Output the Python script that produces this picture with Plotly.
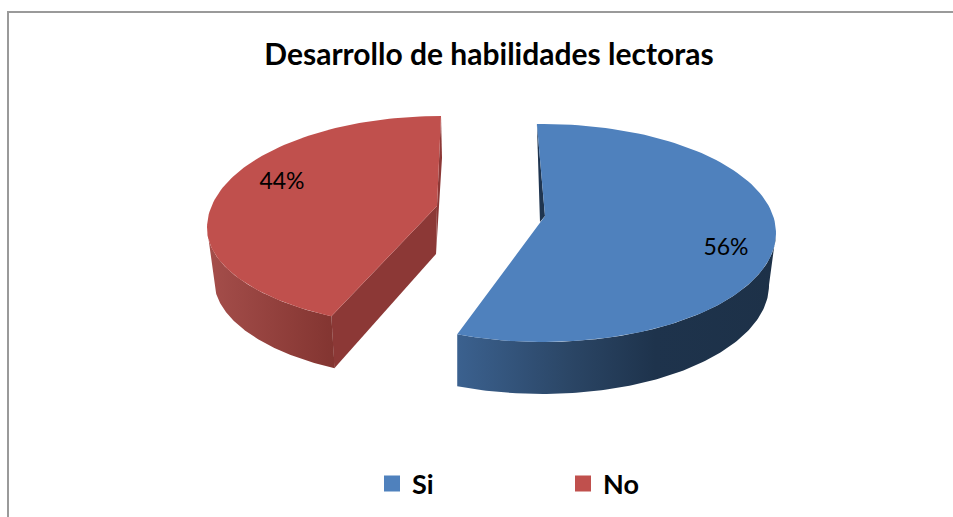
import numpy as np
import plotly.graph_objects as go

# ---- data ----
categories = ["Si", "No"]
values = [56, 44]
title = "Desarrollo de habilidades lectoras"

# ---- styling / geometry (pixels of the 953x517 canvas) ----
TOP_COLORS = ["#4f81bd", "#c0504d"]
WALL_COLORS = ["#1f3550", "#8c3836"]
SIDE_SCALES = [
    [[0, "#3b618f"], [0.35, "#2b4666"], [0.62, "#1e334c"], [1, "#1d3148"]],
    [[0, "#a54e4b"], [1, "#833531"]],
]
SLICES = [
    dict(cx=543, cy=233, a=233, bt=109, bb=109, apex=(545, 216), sweep=1.0, start=-1.5,
         label=(726, 249), depth=52, inset_left=False),
    dict(cx=441, cy=228, a=234, bt=112, bb=100, apex=(437, 206), sweep=0.96, start=0,
         label=(282, 183), depth=52, inset_left=True),
]
FONT = "Lato, Carlito, Calibri, sans-serif"


def rim(s, t0, t1, n=120, lower=False):
    """Outer rim of a slice between two clockwise angles (degrees from 12 o'clock)."""
    t = np.radians(np.linspace(t0, t1, n))
    sn, cs = np.sin(t), np.cos(t)
    x = s["cx"] + s["a"] * sn
    y = s["cy"] - np.where(cs > 0, s["bt"], s["bb"]) * cs
    if lower:
        inset = np.where((sn > 0) | s["inset_left"], 0.97, 1.0)
        x = s["cx"] + (x - s["cx"]) * inset
        y = y + s["depth"]
    return x, y


fig = go.Figure()


def poly(x, y, **kw):
    fig.add_trace(go.Scatter(x=list(x), y=list(y), mode="lines", fill="toself",
                             line=dict(width=0), hoverinfo="skip", showlegend=False, **kw))


# slice angles from the values (clockwise from 12 o'clock; Si first, No ends at 360)
total = sum(values)
spans = [v / total * 360 for v in values]
ranges = [(SLICES[0]["start"], spans[0]),
          (360 - spans[1] * SLICES[1]["sweep"], 360.0)]

# Si: thin rear wall, outer side, top
s = SLICES[0]
t0, t1 = ranges[0]
tx, ty = rim(s, t0, t1)
poly([tx[0], s["apex"][0], s["apex"][0] - 5], [ty[0], s["apex"][1], s["apex"][1] + 6], fillcolor=WALL_COLORS[0])
ux, uy = rim(s, 90, t1)
lx, ly = rim(s, 90, t1, lower=True)
poly(np.r_[ux, lx[::-1]], np.r_[uy, ly[::-1]],
     fillgradient=dict(type="horizontal", colorscale=SIDE_SCALES[0], start=457, stop=776))
poly(np.r_[s["apex"][0], tx], np.r_[s["apex"][1], ty], fillcolor=TOP_COLORS[0])

# No: walls, outer side, top
s = SLICES[1]
t0, t1 = ranges[1]
tx, ty = rim(s, t0, t1)
ax, ay = s["apex"]
poly([ax, tx[0], tx[0] + 3, ax - 1], [ay, ty[0], ty[0] + s["depth"], ay + 48], fillcolor=WALL_COLORS[1])
poly([tx[-1], tx[-1] + 1, ax - 1, ax], [ty[-1], ty[-1] + 42, ay + 48, ay], fillcolor=WALL_COLORS[1])
ux, uy = rim(s, t0, 270)
lx, ly = rim(s, t0, 270, lower=True)
poly(np.r_[ux, lx[::-1]], np.r_[uy, ly[::-1]],
     fillgradient=dict(type="horizontal", colorscale=SIDE_SCALES[1], start=207, stop=333))
poly(np.r_[ax, tx], np.r_[ay, ty], fillcolor=TOP_COLORS[1])

# percent labels
for s, v in zip(SLICES, values):
    fig.add_trace(go.Scatter(x=[s["label"][0]], y=[s["label"][1]], mode="text",
                             text=[f"{round(v / total * 100)}%"], textposition="middle center",
                             textfont=dict(family=FONT, size=23, color="#000000"),
                             hoverinfo="skip", showlegend=False))

# legend keys
for name, color in zip(categories, TOP_COLORS):
    fig.add_trace(go.Scatter(x=[None], y=[None], mode="markers", name=name,
                             marker=dict(symbol="square", size=17, color=color)))

fig.update_layout(
    width=953, height=517, autosize=False,
    margin=dict(l=0, r=0, t=0, b=0),
    paper_bgcolor="#ffffff", plot_bgcolor="#ffffff",
    title=dict(text=f"<b>{title}</b>", x=489 / 953, xanchor="center", y=1 - 54 / 517, yanchor="middle",
               font=dict(family=FONT, size=30, color="#000000")),
    xaxis=dict(range=[0, 953], visible=False, fixedrange=True),
    yaxis=dict(range=[517, 0], visible=False, fixedrange=True),
    legend=dict(orientation="h", x=372 / 953, xanchor="left", y=1 - 484 / 517, yanchor="middle",
                entrywidth=146, entrywidthmode="pixels", itemsizing="trace", bgcolor="rgba(0,0,0,0)",
                font=dict(family=FONT, size=27, color="#000000", weight="bold")),
    shapes=[dict(type="rect", xref="paper", yref="paper", x0=8 / 953, x1=1.01, y0=-0.01, y1=1 - 12 / 517,
                 line=dict(color="#9a9a9a", width=2), fillcolor="rgba(0,0,0,0)", layer="below")],
)
fig.write_html("out.html", post_script="document.body.style.margin='0';",
               config=dict(displayModeBar=False))
